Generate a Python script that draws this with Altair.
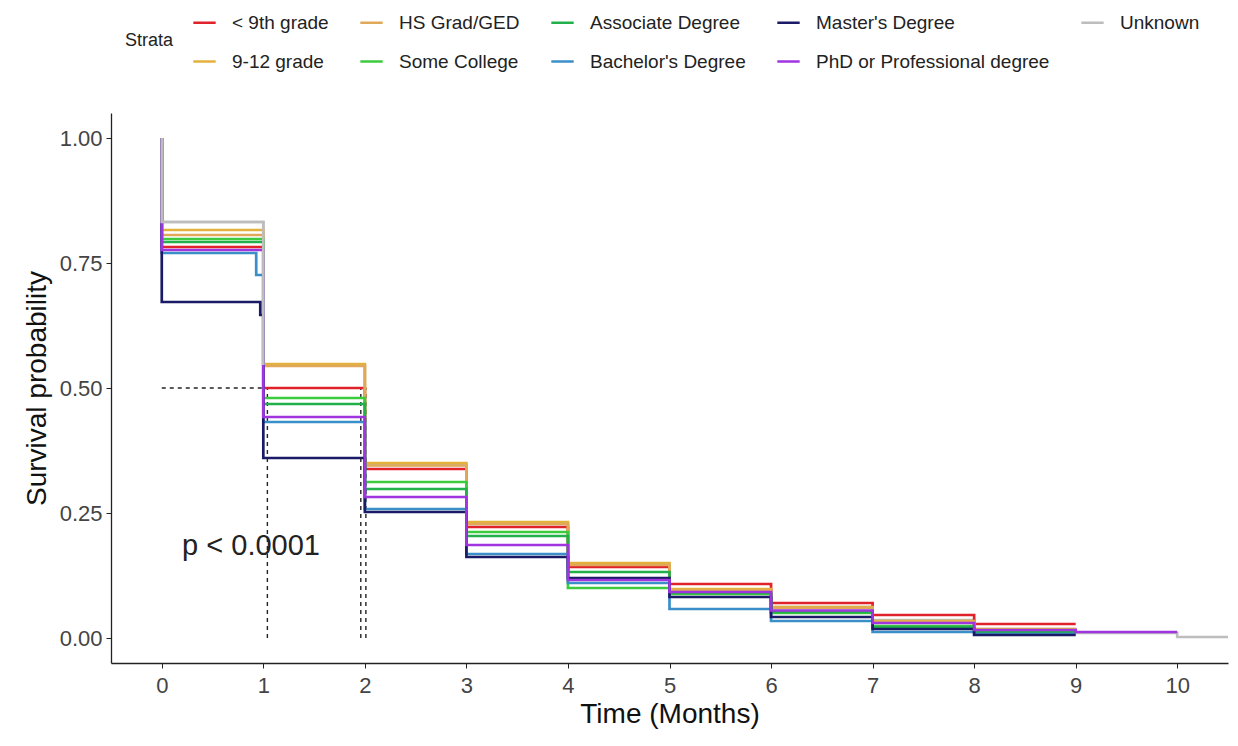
import altair as alt
import pandas as pd

# ---------------- data ----------------
GROUPS = ["Unknown", "< 9th grade", "9-12 grade", "HS Grad/GED", "Some College",
          "Associate Degree", "Bachelor's Degree", "Master's Degree",
          "PhD or Professional degree"]
COLORS = ["#BDBDBD", "#E0232B", "#E3B23C", "#E0A95A", "#3CCB3C", "#22B04A",
          "#3A8FC8", "#1A1A66", "#A035E0"]

# legend order (row-wise fill, 5 columns) that reproduces the column-wise ggplot legend
LEGEND_ORDER = ["< 9th grade", "HS Grad/GED", "Associate Degree", "Master's Degree", "Unknown",
                "9-12 grade", "Some College", "Bachelor's Degree", "PhD or Professional degree"]

TIMES = {
    "Unknown":                    [0, 0, 1, 2, 3, 4, 5, 6, 7, 8, 9, 10, 10.5],
    "< 9th grade":                [0, 0, 1, 2, 3, 4, 5, 6, 7, 8, 9],
    "9-12 grade":                 [0, 0, 1, 2, 3, 4, 5, 6, 7, 8, 9],
    "HS Grad/GED":                [0, 0, 1, 2, 3, 4, 5, 6, 7, 8, 9],
    "Some College":               [0, 0, 1, 2, 3, 4, 5, 6, 7, 8, 9],
    "Associate Degree":           [0, 0, 1, 2, 3, 4, 5, 6, 7, 8, 9],
    "Bachelor's Degree":          [0, 0, 0.93, 1, 2, 3, 4, 5, 6, 7, 8, 9],
    "Master's Degree":            [0, 0, 0.97, 1, 2, 3, 4, 5, 6, 7, 8, 9],
    "PhD or Professional degree": [0, 0, 1, 2, 3, 4, 5, 6, 7, 8, 9, 10],
}
SURV = {
    "Unknown":                    [1.0, 0.832, 0.546, 0.346, 0.228, 0.148, 0.096, 0.062, 0.036, 0.018, 0.010, 0.002, 0.002],
    "< 9th grade":                [1.0, 0.782, 0.500, 0.338, 0.222, 0.142, 0.108, 0.070, 0.046, 0.028, 0.028],
    "9-12 grade":                 [1.0, 0.816, 0.548, 0.350, 0.232, 0.150, 0.098, 0.062, 0.034, 0.018, 0.018],
    "HS Grad/GED":                [1.0, 0.806, 0.544, 0.345, 0.228, 0.146, 0.095, 0.060, 0.032, 0.016, 0.016],
    "Some College":               [1.0, 0.798, 0.480, 0.312, 0.212, 0.100, 0.088, 0.050, 0.024, 0.014, 0.014],
    "Associate Degree":           [1.0, 0.792, 0.468, 0.298, 0.204, 0.132, 0.090, 0.052, 0.022, 0.012, 0.012],
    "Bachelor's Degree":          [1.0, 0.770, 0.726, 0.432, 0.258, 0.168, 0.110, 0.058, 0.034, 0.012, 0.008, 0.008],
    "Master's Degree":            [1.0, 0.672, 0.646, 0.360, 0.252, 0.162, 0.120, 0.082, 0.042, 0.018, 0.006, 0.006],
    "PhD or Professional degree": [1.0, 0.776, 0.442, 0.282, 0.186, 0.116, 0.092, 0.055, 0.030, 0.016, 0.012, 0.012],
}

MEDIAN_X = [1.04, 1.96, 2.01]
MEDIAN_Y = 0.5
P_TEXT = "p < 0.0001"

# ---------------- build tables ----------------
rows = []
for g in GROUPS:
    for i, (t, s) in enumerate(zip(TIMES[g], SURV[g])):
        rows.append({"time": t, "surv": s, "strata": g, "idx": i})
df = pd.DataFrame(rows)

vdf = pd.DataFrame({"x": MEDIAN_X, "y": [0.0] * len(MEDIAN_X), "y2": [MEDIAN_Y] * len(MEDIAN_X)})
hdf = pd.DataFrame({"x": [0.0], "x2": [max(MEDIAN_X)], "y": [MEDIAN_Y]})
tdf = pd.DataFrame({"x": [0.2], "y": [0.185], "label": [P_TEXT]})

FONT = "Liberation Sans"
xscale = alt.Scale(domain=[-0.5, 10.5], nice=False, zero=False)
yscale = alt.Scale(domain=[-0.05, 1.05], nice=False, zero=False)

color_map = dict(zip(GROUPS, COLORS))
color_scale = alt.Scale(domain=LEGEND_ORDER, range=[color_map[g] for g in LEGEND_ORDER])

base = alt.Chart(df).encode(
    x=alt.X("time:Q", scale=xscale,
            axis=alt.Axis(title="Time (Months)", values=list(range(0, 11)), format="d")),
    y=alt.Y("surv:Q", scale=yscale,
            axis=alt.Axis(title="Survival probability", values=[0, 0.25, 0.5, 0.75, 1.0], format=".2f")),
    order="idx:Q",
    detail="strata:N",
)

lines = base.mark_line(interpolate="step-after", strokeWidth=2.7).encode(
    color=alt.Color("strata:N", scale=color_scale,
                    legend=alt.Legend(title="Strata", orient="none", legendX=14, legendY=-103,
                                      direction="horizontal", columns=5, titleOrient="left",
                                      symbolType="stroke", symbolSize=500, symbolStrokeWidth=2.5,
                                      labelFontSize=19, titleFontSize=18, labelFont=FONT, titleFont=FONT,
                                      titleFontWeight="normal", labelColor="#222", titleColor="#222",
                                      columnPadding=26, rowPadding=16, titlePadding=18,
                                      labelOffset=15, labelLimit=400)),
)

# the Unknown curve's first drop at t=0 sits on top in the reference
top_unknown = base.transform_filter(
    (alt.datum.strata == "Unknown") & (alt.datum.idx <= 2)
).mark_line(interpolate="step-after", strokeWidth=2.7).encode(
    color=alt.Color("strata:N", scale=color_scale, legend=None))

vrules = alt.Chart(vdf).mark_rule(strokeDash=[4, 4], color="#222", strokeWidth=1.4).encode(
    x="x:Q", y="y:Q", y2="y2:Q")
hrule = alt.Chart(hdf).mark_rule(strokeDash=[4, 4], color="#222", strokeWidth=1.4).encode(
    x="x:Q", x2="x2:Q", y="y:Q")
ptext = alt.Chart(tdf).mark_text(align="left", baseline="middle", fontSize=29, font=FONT, color="#222").encode(
    x="x:Q", y="y:Q", text="label:N")

chart = alt.layer(vrules, hrule, lines, top_unknown, ptext).properties(
    width=1117, height=550,
    autosize=alt.AutoSizeParams(type="none"),
    padding={"left": 111, "top": 113, "right": 10, "bottom": 83},
).configure_view(stroke=None).configure_axis(
    domainColor="#222", tickColor="#222", labelColor="#444", titleColor="#111",
    labelFont=FONT, titleFont=FONT, labelFontSize=22, titleFontSize=28,
    titleFontWeight="normal", grid=False, tickSize=5, domainWidth=1.3,
).configure_axisX(labelPadding=7, titlePadding=4).configure_axisY(labelPadding=4, titlePadding=8)

chart.save("out.html", embed_options={"renderer": "svg", "actions": False})
